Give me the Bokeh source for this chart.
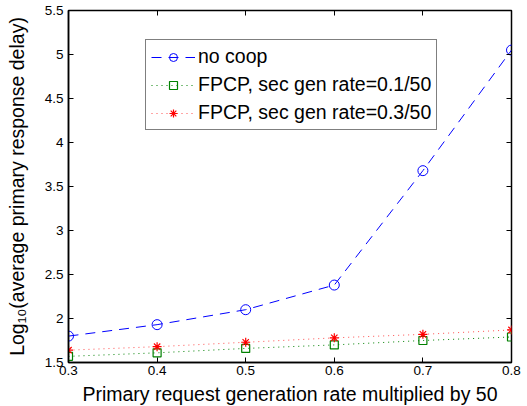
from bokeh.plotting import figure
from bokeh.models import LinearAxis, FixedTicker, Legend, LegendItem
from bokeh.embed import file_html
from bokeh.resources import INLINE

# Data
x_rate = [0.3, 0.4, 0.5, 0.6, 0.7, 0.8]
no_coop = [1.80, 1.93, 2.10, 2.38, 3.68, 5.05]
fpcp_01 = [1.57, 1.61, 1.66, 1.70, 1.75, 1.79]
fpcp_03 = [1.64, 1.68, 1.73, 1.78, 1.82, 1.87]
x_ticks = [0.3, 0.4, 0.5, 0.6, 0.7, 0.8]
y_ticks = [1.5, 2.0, 2.5, 3.0, 3.5, 4.0, 4.5, 5.0, 5.5]
labels = ["no coop", "FPCP, sec gen rate=0.1/50", "FPCP, sec gen rate=0.3/50"]

FONT = "Liberation Sans"

p = figure(frame_width=443, frame_height=352, x_range=(0.3, 0.8), y_range=(1.5, 5.5),
           output_backend="svg", toolbar_location=None,
           min_border_left=68, min_border_right=14, min_border_top=10, min_border_bottom=43)
p.xgrid.visible = False
p.ygrid.visible = False
p.outline_line_color = "black"
p.outline_line_width = 1.5
p.background_fill_color = "white"
p.border_fill_color = "white"

for ax, ticks in ((p.xaxis[0], x_ticks), (p.yaxis[0], y_ticks)):
    ax.ticker = FixedTicker(ticks=ticks)
    ax.major_label_overrides = {t: f"{t:g}" for t in ticks}
    ax.major_tick_in = 5
    ax.major_tick_out = 0
    ax.minor_tick_in = 0
    ax.minor_tick_out = 0
    ax.axis_line_width = 1.5
    ax.major_tick_line_width = 1
    ax.major_label_text_font = FONT
    ax.major_label_text_font_size = "13.5px"
    ax.major_label_text_color = "black"
    ax.axis_label_text_font = FONT
    ax.axis_label_text_font_size = "19.5px"
    ax.axis_label_text_font_style = "normal"
    ax.axis_label_text_color = "black"

p.xaxis[0].axis_label = "Primary request generation rate multiplied by 50"
p.xaxis[0].major_label_standoff = 3
p.xaxis[0].axis_label_standoff = 5
p.yaxis[0].axis_label = "Log\u2081\u2080(average primary response delay)"
p.yaxis[0].major_label_standoff = 5
p.yaxis[0].axis_label_standoff = 14

top = LinearAxis(ticker=FixedTicker(ticks=x_ticks),
                 major_label_overrides={t: "" for t in x_ticks},
                 major_tick_in=5, major_tick_out=0, minor_tick_in=0, minor_tick_out=0,
                 major_label_standoff=0, axis_line_color=None)
right = LinearAxis(ticker=FixedTicker(ticks=y_ticks),
                   major_label_overrides={t: "" for t in y_ticks},
                   major_tick_in=5, major_tick_out=0, minor_tick_in=0, minor_tick_out=0,
                   major_label_standoff=0, axis_line_color=None)
p.add_layout(top, "above")
p.add_layout(right, "right")

l1 = p.line(x_rate, no_coop, line_color="blue", line_width=1, line_dash="10 7")
s1 = p.scatter(x_rate, no_coop, marker="circle", size=10, line_color="blue", fill_color=None, line_width=1)
l2 = p.line(x_rate, fpcp_01, line_color="green", line_width=1, line_dash="1 4")
s2 = p.scatter(x_rate, fpcp_01, marker="square", size=8, line_color="green", fill_color=None, line_width=1.2)
l3 = p.line(x_rate, fpcp_03, line_color="red", line_width=1, line_dash="1 4", line_alpha=0.7)
s3 = p.scatter(x_rate, fpcp_03, marker="asterisk", size=9, line_color="red", line_width=1.2)

legend = Legend(items=[LegendItem(label=labels[0], renderers=[l1, s1]),
                       LegendItem(label=labels[1], renderers=[l2, s2]),
                       LegendItem(label=labels[2], renderers=[l3, s3])],
                location=(77, 232), margin=0, padding=5, spacing=5,
                glyph_width=44, glyph_height=20, label_height=20, label_standoff=3,
                label_text_font=FONT, label_text_font_size="19.5px", label_text_color="black",
                border_line_color="black", border_line_width=1.5,
                background_fill_color="white", background_fill_alpha=1)
p.add_layout(legend, "center")

open("out.html", "w").write(file_html(p, INLINE))
